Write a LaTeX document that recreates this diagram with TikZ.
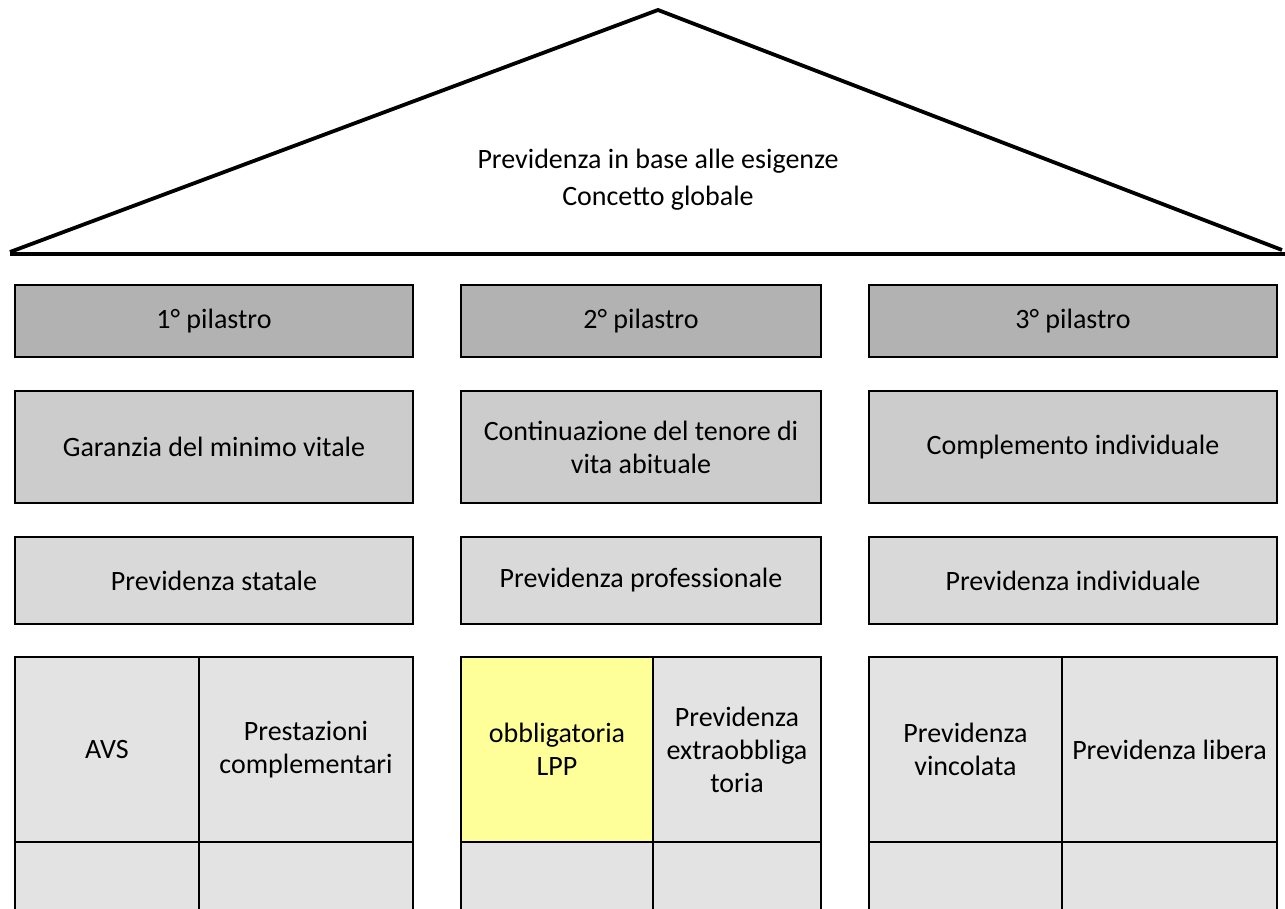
\documentclass[tikz,border=0pt]{standalone}
\usepackage{fontspec}
\setmainfont{Carlito}
\usepackage{tikz}
\usetikzlibrary{positioning}
\definecolor{pilgray}{HTML}{B2B2B2}
\definecolor{goalgray}{HTML}{CCCCCC}
\definecolor{kindgray}{HTML}{D9D9D9}
\definecolor{cellgray}{HTML}{E3E3E3}
\definecolor{lppyellow}{HTML}{FFFF99}

\begin{document}
\begin{tikzpicture}[x=1pt,y=-1pt,
    font=\fontsize{28}{33}\selectfont,
    box/.style={draw,line width=2.5pt,rectangle,inner sep=0pt,outer sep=0pt,align=center},
    pil/.style={box,fill=pilgray,minimum height=72pt},
    goal/.style={box,fill=goalgray,minimum height=112pt},
    kind/.style={box,fill=kindgray,minimum height=87pt},
    cell/.style={box,fill=cellgray,minimum height=185pt}]
        \useasboundingbox (0,0) rectangle (1285,909);
        \clip (0,0) rectangle (1285,909);
        % roof
        \coordinate (apex) at (658,10);
        \coordinate (eaveL) at (10,252);
        \coordinate (eaveR) at (1282,250);
        \coordinate (baseL) at (10,254);
        \coordinate (baseR) at (1285,254);
        \draw[line width=3.8pt,line join=miter] (eaveL) -- (apex) -- (eaveR);
        \draw[line width=3.6pt] (baseL) -- (baseR);
        \node[align=center] (roof) at (658,180) {Previdenza in base alle esigenze\\[4pt]Concetto globale};
        % pillars
        \node[pil,minimum width=398pt] (p1) at (214,321) {1° pilastro};
        \node[pil,minimum width=360pt] (p2) at (641,321) {2° pilastro};
        \node[pil,minimum width=408pt] (p3) at (1073,321) {3° pilastro};
        % goals
        \node[goal,minimum width=398pt] (g1) at (214,447) {Garanzia del minimo vitale};
        \node[goal,minimum width=360pt] (g2) at (641,447) {Continuazione del tenore di\\vita abituale};
        \node[goal,minimum width=408pt] (g3) at (1073,447) {Complemento individuale};
        % kinds
        \node[kind,minimum width=398pt] (k1) at (214,580.5) {Previdenza statale};
        \node[kind,minimum width=360pt] (k2) at (641,580.5) {Previdenza professionale};
        \node[kind,minimum width=408pt] (k3) at (1073,580.5) {Previdenza individuale};
        % cells
        \node[cell,minimum width=184pt] (avs) at (107,749.5) {AVS};
        \node[cell,minimum width=214pt] (pc) at (306,749.5) {Prestazioni\\complementari};
        \node[cell,fill=lppyellow,minimum width=192pt] (lpp) at (557,749.5) {obbligatoria\\LPP};
        \node[cell,minimum width=168pt] (extra) at (737,749.5) {Previdenza\\extraobbliga\\toria};
        \node[cell,minimum width=193pt] (vinc) at (965.5,749.5) {Previdenza\\vincolata};
        \node[cell,minimum width=215pt] (lib) at (1169.5,749.5) {Previdenza libera};
        \foreach \c in {avs,pc,lpp,extra,vinc,lib}
            \draw[line width=2.5pt,fill=cellgray] (\c.south west) rectangle ([yshift=-80pt]\c.south east);
    \end{tikzpicture}
\end{document}
